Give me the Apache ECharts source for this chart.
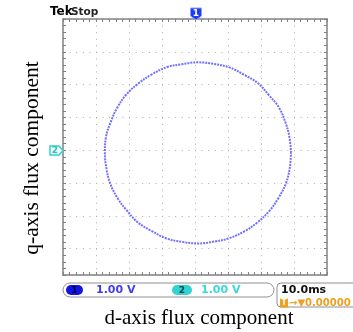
<!DOCTYPE html>
<html>
<head>
<meta charset="utf-8">
<script src="https://cdn.jsdelivr.net/npm/echarts@6/dist/echarts.min.js"></script>
<style>
  html, body { margin: 0; padding: 0; background: #fff; }
  #main { width: 353px; height: 332px; }
</style>
</head>
<body>
<div id="main"></div>
<script>
// scope trace, in divisions (d = horizontal, q = vertical)
var traceD = [2.91, 2.86, 2.74, 2.54, 2.24, 1.91, 1.49, 1.06, 0.57, 0.09, -0.41, -0.86, -1.33, -1.71, -2.08, -2.36, -2.55, -2.70,
              -2.73, -2.68, -2.57, -2.34, -2.06, -1.73, -1.31, -0.88, -0.39, 0.08, 0.59, 1.04, 1.51, 1.89, 2.26, 2.52, 2.75, 2.87];
var traceQ = [-0.08, 0.41, 0.85, 1.31, 1.68, 2.04, 2.30, 2.52, 2.63, 2.68, 2.62, 2.53, 2.30, 2.04, 1.70, 1.29, 0.87, 0.39,
              -0.08, -0.57, -1.01, -1.47, -1.84, -2.20, -2.46, -2.68, -2.79, -2.84, -2.78, -2.68, -2.46, -2.20, -1.84, -1.47, -1.02, -0.55];
var dRange = [-4, 4];
var qRange = [-3.8, 4];   // bottom row of the graticule is hidden by the status bar
var chanScale = ['1.00 V', '1.00 V'];
var timeBase = '10.0ms';
var trigPos = '0.00000 s';

// y axis runs inverted on -q so that its ticks start at the top edge (q = 4)
var pts = [];
for (var i = 0; i < traceD.length; i++) pts.push([traceD[i], -traceQ[i]]);
pts.push([traceD[0], -traceQ[0]]);

var frameCol = '#808080';
var dotCol = '#a9a9a9';

// frame edge with small inward ticks every 1/5 division
function edge(extra) {
  var ax = {
    type: 'value', interval: 1,
    axisLine: { show: true, onZero: false, lineStyle: { color: frameCol, width: 1.5 } },
    axisTick: { show: true, inside: true, length: 3, lineStyle: { color: frameCol } },
    minorTick: { show: true, splitNumber: 5, length: 3, lineStyle: { color: frameCol } },
    axisLabel: { show: false },
    splitLine: { show: false }
  };
  for (var k in extra) ax[k] = extra[k];
  return ax;
}

var myChart = echarts.init(document.getElementById('main'));
var option = {
  backgroundColor: '#fff',
  animation: false,
  grid: { left: 63, top: 19, width: 264, height: 256, show: false, containLabel: false, outerBoundsMode: 'none' },
  xAxis: [
    edge({ position: 'top', min: dRange[0], max: dRange[1],
      splitLine: { show: true, showMinLine: false, showMaxLine: false, lineStyle: { color: dotCol, type: [1, 5.56] } } }),
    edge({ position: 'bottom', min: dRange[0], max: dRange[1],
      name: 'd-axis flux component', nameLocation: 'middle', nameGap: 33,
      nameTextStyle: { fontFamily: 'Liberation Serif', fontSize: 21, color: '#000', padding: [0, 0, 0, 8] } })
  ],
  yAxis: [
    edge({ position: 'left', inverse: true, min: -qRange[1], max: -qRange[0],
      splitLine: { show: true, showMinLine: false, showMaxLine: false, lineStyle: { color: dotCol, type: [1, 5.6] } },
      name: 'q-axis flux component', nameLocation: 'middle', nameGap: 20, nameRotate: 90,
      nameTextStyle: { fontFamily: 'Liberation Serif', fontSize: 21.5, color: '#000', padding: [0, 22, 0, 0] } }),
    edge({ position: 'right', inverse: true, min: -qRange[1], max: -qRange[0] })
  ],
  series: [{
    type: 'line', xAxisIndex: 0, yAxisIndex: 0,
    data: pts, showSymbol: false, smooth: 0.4,
    lineStyle: { color: '#4d4dff', width: 2, type: [2, 1], opacity: 0.8 }
  }],
  graphic: [
    { type: 'text', z: 110, x: 50, y: 12, style: { text: 'Tek', font: 'bold 12px "DejaVu Sans"', fill: '#000', verticalAlign: 'middle' } },
    { type: 'text', z: 110, x: 71, y: 12, style: { text: 'Stop', font: 'bold 10.5px "DejaVu Sans"', fill: '#222', verticalAlign: 'middle' } },
    // channel 1 marker
    { type: 'polygon', z: 110, shape: { points: [[190.5, 8], [201.5, 8], [201.5, 16], [196, 20], [190.5, 16]] },
      style: { fill: '#1f3cf5', stroke: '#8fa0ff', lineWidth: 1 } },
    { type: 'text', z: 111, x: 196, y: 13.5, style: { text: '1', font: 'bold 9px "DejaVu Sans"', fill: '#fff', align: 'center', verticalAlign: 'middle' } },
    // channel 2 marker
    { type: 'polygon', z: 110, shape: { points: [[50, 146], [59, 146], [63, 150.5], [59, 155], [50, 155]] },
      style: { fill: '#f0ffff', stroke: '#35cfcf', lineWidth: 1.5 } },
    { type: 'text', z: 111, x: 55, y: 151, style: { text: '2', font: 'bold 9px "DejaVu Sans"', fill: '#25bcbc', align: 'center', verticalAlign: 'middle' } },
    // status bar
    { type: 'rect', z: 110, shape: { x: 63, y: 283, width: 211, height: 14, r: 7 }, style: { fill: '#fff', stroke: '#909090', lineWidth: 1 } },
    { type: 'rect', z: 111, shape: { x: 66, y: 285, width: 17, height: 10, r: 5 }, style: { fill: '#1414e0' } },
    { type: 'text', z: 112, x: 74.5, y: 290.5, style: { text: '1', font: 'bold 9px "DejaVu Sans"', fill: '#000050', align: 'center', verticalAlign: 'middle' } },
    { type: 'text', z: 111, x: 96, y: 290.5, style: { text: chanScale[0], font: 'bold 11px "DejaVu Sans"', fill: '#3c3cf0', verticalAlign: 'middle' } },
    { type: 'rect', z: 111, shape: { x: 172, y: 285, width: 20, height: 10, r: 5 }, style: { fill: '#2fd3d3' } },
    { type: 'text', z: 112, x: 182, y: 290.5, style: { text: '2', font: 'bold 9px "DejaVu Sans"', fill: '#004040', align: 'center', verticalAlign: 'middle' } },
    { type: 'text', z: 111, x: 201, y: 290.5, style: { text: chanScale[1], font: 'bold 11px "DejaVu Sans"', fill: '#3ad8d8', verticalAlign: 'middle' } },
    // time base box
    { type: 'rect', z: 110, shape: { x: 277, y: 283, width: 90, height: 24, r: 4 }, style: { fill: '#fff', stroke: '#909090', lineWidth: 1 } },
    { type: 'text', z: 111, x: 281, y: 290.5, style: { text: timeBase, font: 'bold 11px "DejaVu Sans"', fill: '#111', verticalAlign: 'middle' } },
    { type: 'rect', z: 111, shape: { x: 280, y: 298.5, width: 8, height: 9 }, style: { fill: '#f0a020' } },
    { type: 'text', z: 112, x: 284, y: 303, style: { text: 'T', font: 'bold 8px "DejaVu Sans"', fill: '#fff', align: 'center', verticalAlign: 'middle' } },
    { type: 'text', z: 111, x: 289, y: 303, style: { text: '\u2192\u25BC' + trigPos, font: 'bold 10px "DejaVu Sans"', fill: '#f0a020', verticalAlign: 'middle' } }
  ]
};
myChart.setOption(option);
</script>
</body>
</html>
